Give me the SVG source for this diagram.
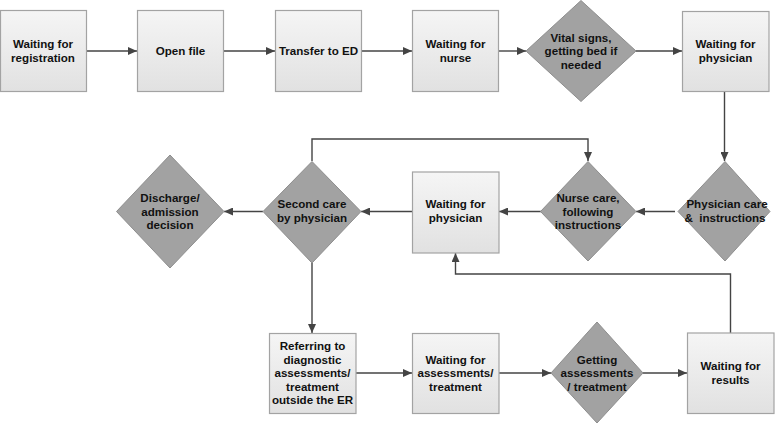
<svg xmlns="http://www.w3.org/2000/svg" width="778" height="426" viewBox="0 0 778 426">
<defs>
<linearGradient id="boxg" x1="0" y1="0" x2="0" y2="1">
<stop offset="0" stop-color="#f5f5f5"/>
<stop offset="1" stop-color="#e1e1e1"/>
</linearGradient>
<marker id="ah" markerWidth="9" markerHeight="8" refX="9" refY="4" orient="auto" markerUnits="userSpaceOnUse">
<path d="M0,0 L9,4 L0,8 z" fill="#444"/>
</marker>
<style>
.box{fill:url(#boxg);stroke:#a3a3a3;stroke-width:1.2}
.dia{fill:#a2a2a2;stroke:#8e8e8e;stroke-width:1}
.lbl{font-family:"Liberation Sans",Arial,sans-serif;font-weight:bold;font-size:11.6px;fill:#111;text-anchor:middle}
.con{fill:none;stroke:#444;stroke-width:1.4;marker-end:url(#ah)}
</style>
</defs>
<rect width="778" height="426" fill="#fff"/>
<g id="connectors">
<line class="con" x1="87" y1="51" x2="137" y2="51"/>
<line class="con" x1="224" y1="51" x2="275" y2="51"/>
<line class="con" x1="362" y1="51" x2="412" y2="51"/>
<line class="con" x1="499" y1="51" x2="526" y2="51"/>
<line class="con" x1="636" y1="51" x2="682" y2="51"/>
<line class="con" x1="724.5" y1="91" x2="724.5" y2="161"/>
<line class="con" x1="675" y1="211.5" x2="636" y2="211.5"/>
<line class="con" x1="541" y1="211.5" x2="499" y2="211.5"/>
<line class="con" x1="412" y1="211.5" x2="361" y2="211.5"/>
<line class="con" x1="263" y1="211.5" x2="224" y2="211.5"/>
<polyline class="con" points="312,161 312,139 588,139 588,161"/>
<line class="con" x1="312" y1="263" x2="312" y2="333"/>
<line class="con" x1="356" y1="373" x2="412" y2="373"/>
<line class="con" x1="499" y1="373" x2="551" y2="373"/>
<line class="con" x1="643" y1="373" x2="687" y2="373"/>
<polyline class="con" points="730.5,333 730.5,274 455.5,274 455.5,253"/>
</g>
<g id="n1"><rect class="box" x="0.5" y="10.5" width="86" height="81"/>
<text class="lbl" x="43" y="48">Waiting for</text><text class="lbl" x="43" y="61.5">registration</text></g>
<g id="n2"><rect class="box" x="137.5" y="10.5" width="86" height="81"/>
<text class="lbl" x="180.5" y="55">Open file</text></g>
<g id="n3"><rect class="box" x="275.5" y="10.5" width="86" height="81"/>
<text class="lbl" x="318.5" y="55">Transfer to ED</text></g>
<g id="n4"><rect class="box" x="412.5" y="10.5" width="86" height="81"/>
<text class="lbl" x="455.5" y="48">Waiting for</text><text class="lbl" x="455.5" y="61.5">nurse</text></g>
<g id="n5"><polygon class="dia" points="581,0.5 636,51 581,101.5 526,51"/>
<text class="lbl" x="581" y="41.5">Vital signs,</text><text class="lbl" x="581" y="55">getting bed if</text><text class="lbl" x="581" y="68.5">needed</text></g>
<g id="n6"><rect class="box" x="682.5" y="11.5" width="86.5" height="80"/>
<text class="lbl" x="725.5" y="48">Waiting for</text><text class="lbl" x="725.5" y="61.5">physician</text></g>
<g id="n7"><polygon class="dia" points="725,161.5 770,211.5 725,261 678,211.5"/>
<text class="lbl" x="727" y="208">Physician care</text><text class="lbl" x="725" y="221.5">&amp;&#160; instructions</text></g>
<g id="n8"><polygon class="dia" points="588,161.5 636,211.5 588,261 540.5,211.5"/>
<text class="lbl" x="588" y="202">Nurse care,</text><text class="lbl" x="588" y="215.5">following</text><text class="lbl" x="588" y="229">instructions</text></g>
<g id="n9"><rect class="box" x="412.5" y="172" width="86.5" height="81"/>
<text class="lbl" x="455.5" y="208">Waiting for</text><text class="lbl" x="455.5" y="221.5">physician</text></g>
<g id="n10"><polygon class="dia" points="312,161.5 361,211.5 312,263 263,211.5"/>
<text class="lbl" x="312" y="208">Second care</text><text class="lbl" x="312" y="221.5">by physician</text></g>
<g id="n11"><polygon class="dia" points="170,155 224,211.5 170,268 116.5,211.5"/>
<text class="lbl" x="170" y="202">Discharge/</text><text class="lbl" x="170" y="215.5">admission</text><text class="lbl" x="170" y="229">decision</text></g>
<g id="n12"><rect class="box" x="269.5" y="333.5" width="86.5" height="80"/>
<text class="lbl" x="312.5" y="350">Referring to</text><text class="lbl" x="312.5" y="363.5">diagnostic</text><text class="lbl" x="312.5" y="377">assessments/</text><text class="lbl" x="312.5" y="390.5">treatment</text><text class="lbl" x="312.5" y="404">outside the ER</text></g>
<g id="n13"><rect class="box" x="412.5" y="333.5" width="86.5" height="80"/>
<text class="lbl" x="455.5" y="363.5">Waiting for</text><text class="lbl" x="455.5" y="377">assessments/</text><text class="lbl" x="455.5" y="390.5">treatment</text></g>
<g id="n14"><polygon class="dia" points="597,322 643,373 597,423 551,373"/>
<text class="lbl" x="597" y="363.5">Getting</text><text class="lbl" x="597" y="377">assessments</text><text class="lbl" x="597" y="390.5">/ treatment</text></g>
<g id="n15"><rect class="box" x="687.5" y="333" width="86.5" height="80.5"/>
<text class="lbl" x="730.5" y="370">Waiting for</text><text class="lbl" x="730.5" y="383.5">results</text></g>
</svg>
